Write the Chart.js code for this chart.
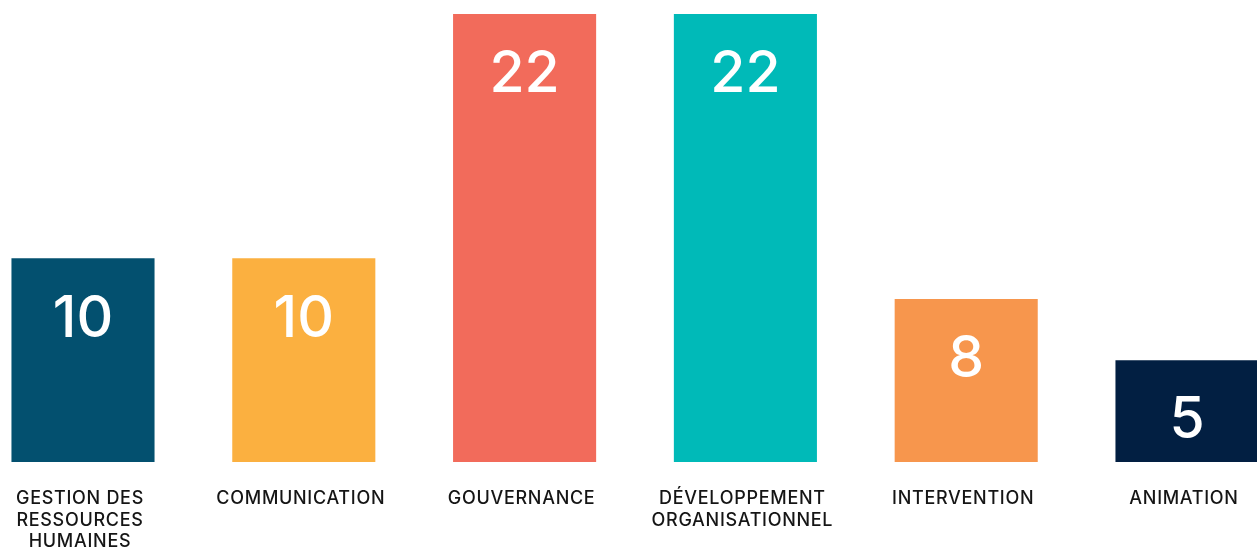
<!DOCTYPE html>
<html lang="fr">
<head>
<meta charset="utf-8">
<title>Répartition par domaine</title>
<script src="https://cdn.jsdelivr.net/npm/chart.js@4"></script>
<style>
    html, body { margin: 0; padding: 0; background: #fff; }
    #wrap { position: relative; width: 1257px; height: 557px; }
</style>
</head>
<body>
<div id="wrap"><canvas id="domainChart"></canvas></div>
<script>
// Categories and values
const categories = [
    ['GESTION DES', 'RESSOURCES', 'HUMAINES'],
    'COMMUNICATION',
    'GOUVERNANCE',
    ['DÉVELOPPEMENT', 'ORGANISATIONNEL'],
    'INTERVENTION',
    'ANIMATION'
];
const counts = [10, 10, 22, 22, 8, 5];
const barColors = ['#03506f', '#fbb040', '#f26b5b', '#00bab8', '#f7964d', '#021f42'];

// Slight tracking on the category labels
const tracking = {
    id: 'tracking',
    beforeDraw(chart) { chart.ctx.letterSpacing = '0.7px'; },
    afterDraw(chart) { chart.ctx.letterSpacing = '0px'; }
};

// Draw the value inside each bar, near its top
const valueLabels = {
    id: 'valueLabels',
    afterDatasetsDraw(chart) {
        const ctx = chart.ctx;
        const meta = chart.getDatasetMeta(0);
        ctx.save();
        ctx.letterSpacing = '0px';
        ctx.fillStyle = '#ffffff';
        ctx.font = '500 57px Inter, sans-serif';
        ctx.textAlign = 'center';
        ctx.textBaseline = 'middle';
        meta.data.forEach((bar, i) => {
            ctx.fillText(String(counts[i]), bar.x, bar.y + 61);
        });
        ctx.restore();
    }
};

const ctx = document.getElementById('domainChart').getContext('2d');
new Chart(ctx, {
    type: 'bar',
    data: {
        labels: categories,
        datasets: [{
            data: counts,
            backgroundColor: barColors,
            borderWidth: 0,
            barPercentage: 1,
            categoryPercentage: 0.648,
            clip: false
        }]
    },
    options: {
        responsive: true,
        maintainAspectRatio: false,
        animation: false,
        layout: {
            padding: { left: 83, right: 70, top: 14, bottom: 0 }
        },
        scales: {
            x: {
                offset: false,
                grid: { display: false, drawTicks: false },
                border: { display: false },
                ticks: {
                    padding: 26,
                    labelOffset: -3,
                    maxRotation: 0,
                    autoSkip: false,
                    color: '#151515',
                    font: { family: 'Inter, sans-serif', size: 18, weight: '500', lineHeight: 1.2 }
                },
                afterFit(scale) {
                    scale.height = 95;
                    scale.paddingLeft = 0;
                    scale.paddingRight = 0;
                }
            },
            y: {
                display: false,
                min: 0,
                max: 22
            }
        },
        plugins: {
            legend: { display: false },
            tooltip: { enabled: false }
        }
    },
    plugins: [tracking, valueLabels]
});
</script>
</body>
</html>
